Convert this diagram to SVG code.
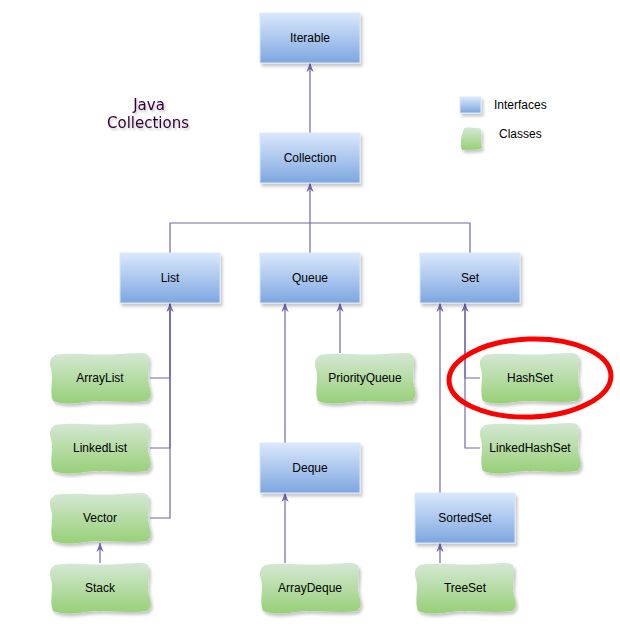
<svg xmlns="http://www.w3.org/2000/svg" xmlns:xlink="http://www.w3.org/1999/xlink" width="620" height="630" viewBox="0 0 620 630">
<defs>
  <linearGradient id="gBlue" x1="0" y1="0" x2="0" y2="1">
    <stop offset="0" stop-color="#dae8fc"/>
    <stop offset="1" stop-color="#7ea6e0"/>
  </linearGradient>
  <linearGradient id="gGreen" x1="0" y1="0" x2="0" y2="1">
    <stop offset="0" stop-color="#d5e8d4"/>
    <stop offset="1" stop-color="#97d077"/>
  </linearGradient>
  <filter id="shadow" x="-10%" y="-10%" width="130%" height="140%">
    <feDropShadow dx="2" dy="3" stdDeviation="1.5" flood-color="#000" flood-opacity="0.22"/>
  </filter>
  <filter id="tshadow" x="-10%" y="-20%" width="130%" height="160%">
    <feDropShadow dx="1.5" dy="2" stdDeviation="1.2" flood-color="#000" flood-opacity="0.25"/>
  </filter>
  <marker id="arr" viewBox="0 0 10 10" refX="10" refY="5" markerUnits="userSpaceOnUse" markerWidth="9" markerHeight="9" orient="auto">
    <path d="M0,1 L10,5 L0,9 L3,5 Z" fill="#7466ad"/>
  </marker>
  <path id="blob" d="M5,2 C25,-1 45,3 70,1 S94,0 98,2 C101,12 96,22 99,32 S101,44 97,48 C75,51 55,46 35,49 S10,50 3,48 C-1,38 4,26 1,16 S2,5 5,2 Z"/>
  <path id="blobS" d="M4,1 C10,-1 16,2 20,1 C23,7 20,15 22,21 C15,24 8,22 2,23 C-1,15 2,8 4,1 Z"/>
</defs>
<style>
  .iface { fill: url(#gBlue); stroke: #dae8fc; stroke-width: 1; filter: url(#shadow); }
  .cls { fill: url(#gGreen); stroke: none; filter: url(#shadow); }
  .lbl { font-family: "Liberation Sans", Arial, sans-serif; font-size: 12px; fill: #000; text-anchor: middle; dominant-baseline: central; }
  .leg { font-family: "Liberation Sans", Arial, sans-serif; font-size: 12px; fill: #000; dominant-baseline: central; }
  .title { font-family: "DejaVu Sans", sans-serif; font-size: 15px; fill: #330033; text-anchor: middle; filter: url(#tshadow); }
  .edge { fill: none; stroke: #7466ad; stroke-width: 1.2; }
</style>
<rect x="0" y="0" width="620" height="630" fill="#ffffff"/>

<g id="title">
  <text class="title" x="149" y="110">Java</text>
  <text class="title" x="148" y="128">Collections</text>
</g>

<g id="legend">
  <rect class="iface" x="460" y="97" width="21" height="16"/>
  <text class="leg" x="494" y="105">Interfaces</text>
  <use xlink:href="#blobS" class="cls" transform="translate(460,127)"/>
  <text class="leg" x="499" y="134">Classes</text>
</g>

<g id="connectors">
  <path class="edge" d="M310,133 V63" marker-end="url(#arr)"/>
  <path class="edge" d="M310,253 V183" marker-end="url(#arr)"/>
  <path class="edge" d="M170,253 V223 H310"/>
  <path class="edge" d="M470,253 V223 H310"/>
  <path class="edge" d="M150,378 H170 V303" marker-end="url(#arr)"/>
  <path class="edge" d="M150,448 H170 V303"/>
  <path class="edge" d="M150,518 H170 V303"/>
  <path class="edge" d="M100,563 V543" marker-end="url(#arr)"/>
  <path class="edge" d="M285,443 V303" marker-end="url(#arr)"/>
  <path class="edge" d="M340,353 V303" marker-end="url(#arr)"/>
  <path class="edge" d="M285,563 V493" marker-end="url(#arr)"/>
  <path class="edge" d="M440,493 V303" marker-end="url(#arr)"/>
  <path class="edge" d="M480,378 H465 V303" marker-end="url(#arr)"/>
  <path class="edge" d="M480,448 H465 V303"/>
  <path class="edge" d="M440,563 V543" marker-end="url(#arr)"/>
</g>

<g id="Iterable"><rect class="iface" x="260" y="13" width="100" height="50"/><text class="lbl" x="310" y="38">Iterable</text></g>
<g id="Collection"><rect class="iface" x="260" y="133" width="100" height="50"/><text class="lbl" x="310" y="158">Collection</text></g>
<g id="List"><rect class="iface" x="120" y="253" width="100" height="50"/><text class="lbl" x="170" y="278">List</text></g>
<g id="Queue"><rect class="iface" x="260" y="253" width="100" height="50"/><text class="lbl" x="310" y="278">Queue</text></g>
<g id="Set"><rect class="iface" x="420" y="253" width="100" height="50"/><text class="lbl" x="470" y="278">Set</text></g>
<g id="Deque"><rect class="iface" x="260" y="443" width="100" height="50"/><text class="lbl" x="310" y="468">Deque</text></g>
<g id="SortedSet"><rect class="iface" x="415" y="493" width="100" height="50"/><text class="lbl" x="465" y="518">SortedSet</text></g>

<g id="ArrayList"><use xlink:href="#blob" class="cls" transform="translate(50,353)"/><text class="lbl" x="100" y="378">ArrayList</text></g>
<g id="LinkedList"><use xlink:href="#blob" class="cls" transform="translate(50,423)"/><text class="lbl" x="100" y="448">LinkedList</text></g>
<g id="Vector"><use xlink:href="#blob" class="cls" transform="translate(50,493)"/><text class="lbl" x="100" y="518">Vector</text></g>
<g id="Stack"><use xlink:href="#blob" class="cls" transform="translate(50,563)"/><text class="lbl" x="100" y="588">Stack</text></g>
<g id="PriorityQueue"><use xlink:href="#blob" class="cls" transform="translate(315,353)"/><text class="lbl" x="365" y="378">PriorityQueue</text></g>
<g id="ArrayDeque"><use xlink:href="#blob" class="cls" transform="translate(260,563)"/><text class="lbl" x="310" y="588">ArrayDeque</text></g>
<g id="HashSet"><use xlink:href="#blob" class="cls" transform="translate(480,353)"/><text class="lbl" x="530" y="378">HashSet</text></g>
<g id="LinkedHashSet"><use xlink:href="#blob" class="cls" transform="translate(480,423)"/><text class="lbl" x="530" y="448">LinkedHashSet</text></g>
<g id="TreeSet"><use xlink:href="#blob" class="cls" transform="translate(415,563)"/><text class="lbl" x="465" y="588">TreeSet</text></g>

<g id="highlight">
  <ellipse cx="530" cy="378" rx="81" ry="39" fill="none" stroke="#ff0000" stroke-width="5" transform="rotate(-2 530 378)"/>
</g>
</svg>
